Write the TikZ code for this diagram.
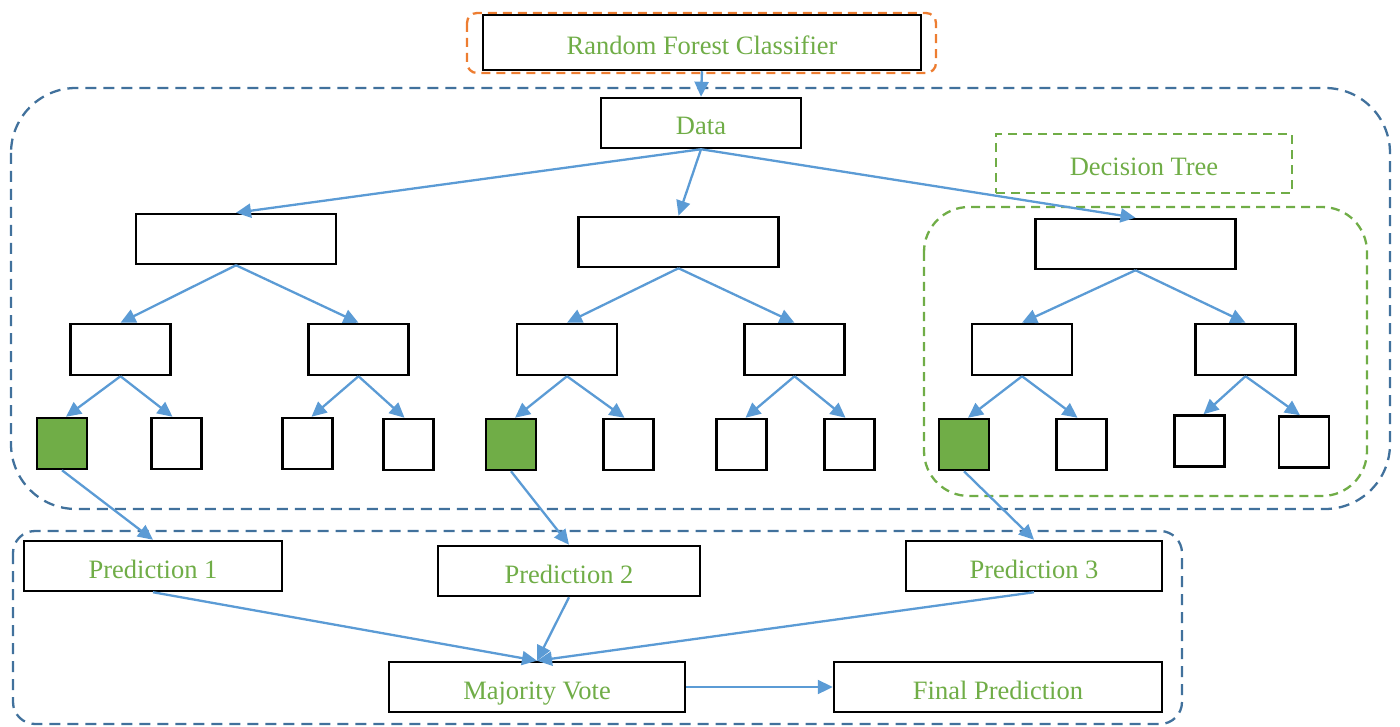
\documentclass[tikz,border=0pt]{standalone}
\usepackage{fontspec}
\setmainfont{Liberation Serif}
\usetikzlibrary{arrows.meta}
\definecolor{txtgreen}{HTML}{70AD47}
\definecolor{leafgreen}{HTML}{70AD47}
\definecolor{arrowblue}{HTML}{5B9BD5}
\definecolor{frameblue}{HTML}{41719C}
\definecolor{frameorange}{HTML}{ED7D31}
\tikzset{
  box/.style={draw=black, line width=2.5pt, fill=white, inner sep=0pt,
    text=txtgreen, font=\fontsize{26.5}{30}\selectfont,
    text height=24pt, text depth=0pt},
  wide/.style={box, minimum width=200pt, minimum height=50pt},
  mid/.style={box, minimum width=100pt, minimum height=51pt},
  leaf/.style={box, minimum width=50pt, minimum height=51pt},
  hit/.style={leaf, fill=leafgreen},
  arr/.style={draw=arrowblue, line width=2.3pt,
    -{Triangle[length=15pt,width=14pt]}},
  bluedash/.style={draw=frameblue, line width=2.3pt, dash pattern=on 11pt off 7pt},
  greendash/.style={draw=txtgreen, line width=2.3pt, dash pattern=on 9pt off 6pt},
  orangedash/.style={draw=frameorange, line width=2.3pt, dash pattern=on 9pt off 6pt},
}
\begin{document}
\begin{tikzpicture}[x=1pt,y=-1pt]
\useasboundingbox (0,0) rectangle (1400,727);

% grouping frames
\draw[orangedash, rounded corners=10pt] (467,13) rectangle (936,73);
\draw[bluedash, rounded corners=65pt] (11,88) rectangle (1390,509);
\draw[greendash, rounded corners=45pt] (924,207) rectangle (1367,496);
\draw[bluedash, rounded corners=22pt] (13,531) rectangle (1182,724);

% header and data
\node[box, minimum width=438pt, minimum height=55pt] (rfc) at (702,42.5) {Random Forest Classifier};
\node[wide] (data) at (701,123) {Data};
\node[box, greendash, fill=none, minimum width=296pt, minimum height=59pt] (dtlabel) at (1144,163.5) {Decision Tree};

% tree roots
\node[wide] (t1) at (236,239) {};
\node[wide] (t2) at (678.5,242) {};
\node[wide] (t3) at (1135.5,244) {};

% second level
\node[mid] (a1) at (120.5,349.5) {};
\node[mid] (a2) at (358.5,349.5) {};
\node[mid] (a3) at (567,349.5) {};
\node[mid] (a4) at (794.5,349.5) {};
\node[mid] (a5) at (1022,349.5) {};
\node[mid] (a6) at (1245.5,349.5) {};

% leaves
\node[hit]  (l1)  at (62,443.5) {};
\node[leaf] (l2)  at (176.5,443.5) {};
\node[leaf] (l3)  at (307.5,443.5) {};
\node[leaf] (l4)  at (408.5,444.5) {};
\node[hit]  (l5)  at (511,444.5) {};
\node[leaf] (l6)  at (628.5,444.5) {};
\node[leaf] (l7)  at (741.5,444.5) {};
\node[leaf] (l8)  at (849.5,444.5) {};
\node[hit]  (l9)  at (964,444.5) {};
\node[leaf] (l10) at (1081.5,444.5) {};
\node[leaf] (l11) at (1199.5,441) {};
\node[leaf] (l12) at (1304,442) {};

% predictions and voting
\node[box, minimum width=258pt, minimum height=50pt] (p1) at (153,566) {Prediction 1};
\node[box, minimum width=262pt, minimum height=50pt] (p2) at (569,571) {Prediction 2};
\node[box, minimum width=256pt, minimum height=50pt] (p3) at (1034,566) {Prediction 3};
\node[box, minimum width=296pt, minimum height=50pt] (mv) at (537,687) {Majority Vote};
\node[box, minimum width=328pt, minimum height=50pt] (fp) at (998,687) {Final Prediction};

% connectors
\draw[arr] (rfc.south) -- (data.north);
\foreach \t in {t1,t2,t3} \draw[arr] (data.south) -- (\t.north);
\draw[arr] (t1.south) -- (a1.north);
\draw[arr] (t1.south) -- (a2.north);
\draw[arr] (t2.south) -- (a3.north);
\draw[arr] (t2.south) -- (a4.north);
\draw[arr] (t3.south) -- (a5.north);
\draw[arr] (t3.south) -- (a6.north);
\draw[arr] (a1.south) -- ([xshift=4pt]l1.north);
\draw[arr] (a1.south) -- ([xshift=-4pt]l2.north);
\draw[arr] (a2.south) -- ([xshift=4pt]l3.north);
\draw[arr] (a2.south) -- ([xshift=-4pt]l4.north);
\draw[arr] (a3.south) -- ([xshift=4pt]l5.north);
\draw[arr] (a3.south) -- ([xshift=-4pt]l6.north);
\draw[arr] (a4.south) -- ([xshift=4pt]l7.north);
\draw[arr] (a4.south) -- ([xshift=-4pt]l8.north);
\draw[arr] (a5.south) -- ([xshift=4pt]l9.north);
\draw[arr] (a5.south) -- ([xshift=-4pt]l10.north);
\draw[arr] (a6.south) -- ([xshift=4pt]l11.north);
\draw[arr] (a6.south) -- ([xshift=-4pt]l12.north);
\draw[arr] (l1.south) -- (p1.north);
\draw[arr] (l5.south) -- (p2.north);
\draw[arr] (l9.south) -- (p3.north);
\draw[arr] (p1.south) -- (mv.north);
\draw[arr] (p2.south) -- (mv.north);
\draw[arr] (p3.south) -- (mv.north);
\draw[arr] (mv.east) -- (fp.west);
\end{tikzpicture}
\end{document}
